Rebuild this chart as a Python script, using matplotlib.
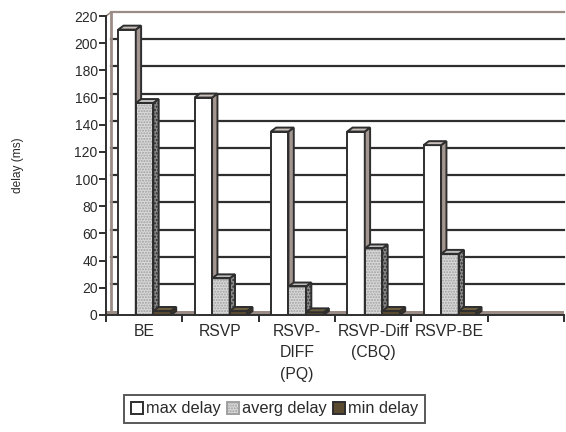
import matplotlib
matplotlib.use('Agg')
import matplotlib.pyplot as plt
from matplotlib.patches import Polygon, Rectangle, Patch
import numpy as np

plt.rcParams['font.family'] = ['Liberation Sans', 'DejaVu Sans']

categories = ['BE', 'RSVP', 'RSVP-\nDIFF\n(PQ)', 'RSVP-Diff\n(CBQ)', 'RSVP-BE', '']
max_delay = [210, 160, 135, 135, 125]
avg_delay = [156, 27, 21, 49, 45]
min_delay = [3, 3, 2, 3, 3]
series = ['max delay', 'averg delay', 'min delay']
yticks = list(range(0, 221, 20))

front = ['white', '#d9d9d9', '#5a4b30']
side = ['#a39691', '#8a8a8a', '#3e3420']
top = ['#c9bfbb', '#bdbdbd', '#6e5e40']
edge = '#2e2e2e'
txt = '#2a2a2a'

fig = plt.figure(figsize=(5.66, 4.32), dpi=100)
ax = fig.add_axes([106/566, 117/432, 458/566, 299/432])
ax.set_xlim(0, 6)
ax.set_ylim(0, 220)

dx, dy = 0.07, 2.9   # depth of the 3D effect (data units)
ncat = len(categories)

# back wall gridlines
for v in yticks[1:]:
    c = '#9c8c86' if v == 220 else '#2e2e2e'
    ax.plot([dx, ncat], [v + dy, v + dy], color=c, lw=1.6, zorder=1, clip_on=False)
ax.plot([0, dx], [220, 220 + dy], color='#9c8c86', lw=1.2, zorder=1, clip_on=False)
ax.plot([dx, dx], [dy, 220 + dy], color='#9c8c86', lw=2.0, zorder=1, clip_on=False)
# floor
ax.fill_between([0, ncat], [0, 0], [dy, dy], color='#9c8c86', zorder=1, lw=0)

w = 0.23
x0 = np.arange(len(max_delay)) + 0.16
for j, vals in enumerate([max_delay, avg_delay, min_delay]):
    xs = x0 + j * w
    bars = ax.bar(xs, vals, width=w, align='edge', color=front[j],
                  edgecolor=edge if j != 1 else '#a0a0a0',
                  hatch='......' if j == 1 else None,
                  linewidth=1.4 if j != 1 else 0, zorder=3 + j)
    for b in bars:
        x, h, bw = b.get_x(), b.get_height(), b.get_width()
        r = x + bw
        sp = Polygon([(r, 0), (r, h), (r + dx, h + dy), (r + dx, dy)],
                     closed=True, fc=side[j], ec=edge, lw=1.4, zorder=3 + j,
                     hatch='.....' if j == 1 else None)
        tp = Polygon([(x, h), (r, h), (r + dx, h + dy), (x + dx, h + dy)],
                     closed=True, fc=top[j], ec=edge, lw=1.4, zorder=3 + j)
        ax.add_patch(sp)
        ax.add_patch(tp)
        if j == 1:
            ax.add_patch(Rectangle((x, 0), bw, h, fill=False, ec=edge,
                                   lw=1.4, zorder=3 + j))

for s in ['top', 'right']:
    ax.spines[s].set_visible(False)
for s in ['left', 'bottom']:
    ax.spines[s].set_color('#2e2e2e')
    ax.spines[s].set_linewidth(1.4)

ax.set_yticks(yticks)
ax.set_yticklabels([str(v) for v in yticks], fontsize=10, color=txt)
ax.tick_params(axis='y', length=5, width=1.4, color='#2e2e2e', pad=1)
ax.set_xticks(np.arange(ncat + 1))
ax.set_xticklabels([])
ax.tick_params(axis='x', length=5, width=1.4, color='#2e2e2e')
for i, lab in enumerate(categories):
    ax.text(i + 0.5, -6.5, lab, ha='center', va='top', fontsize=11.3,
            color=txt, linespacing=1.55)

fig.text(18/566, 1 - 165/432, 'delay (ms)', rotation=90, ha='center',
         va='center', fontsize=8.6, color=txt)

handles = [Patch(fc=front[0], ec=edge, lw=1.4),
           Patch(fc=front[1], ec='#a0a0a0', hatch='......', lw=1.4),
           Patch(fc=front[2], ec=edge, lw=1.4)]
leg = fig.legend(handles, series, loc='center', ncol=3,
                 bbox_to_anchor=(274.5/566, 1 - 409/432), fontsize=11.8,
                 frameon=True, fancybox=False, edgecolor='#2e2e2e',
                 handlelength=0.75, handleheight=0.75, handletextpad=0.2,
                 columnspacing=0.35, borderpad=0.4, borderaxespad=0)
leg.get_frame().set_linewidth(1.4)
for t in leg.get_texts():
    t.set_color(txt)

fig.savefig('out.png', dpi=100)
